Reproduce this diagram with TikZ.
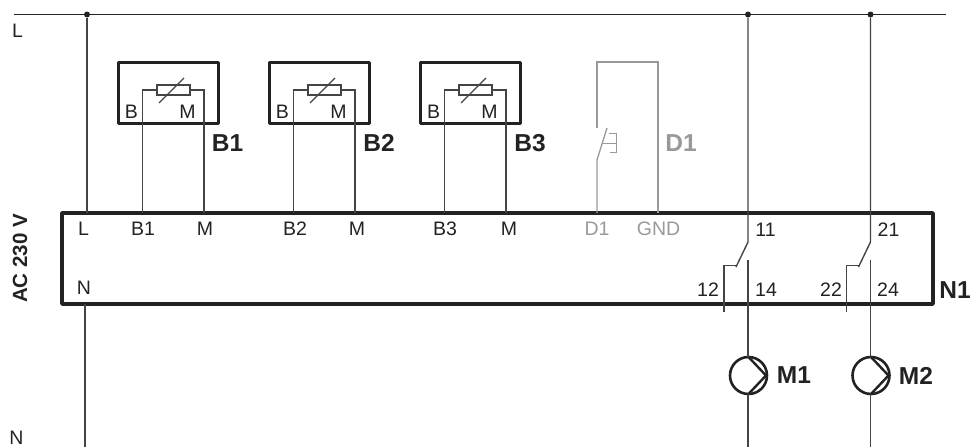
\documentclass[tikz,border=0pt]{standalone}
\usepackage{fontspec}
\setmainfont{Liberation Sans}
\definecolor{ink}{HTML}{222222}
\definecolor{wire}{HTML}{444444}
\definecolor{faint}{HTML}{999999}
\tikzset{
  wireline/.style={draw=wire,line width=1.4pt},
  faintline/.style={draw=faint,line width=1.3pt},
  thickbox/.style={draw=ink,line width=3.8pt,line join=round,fill=none,outer sep=0pt},
  lab/.style={text=ink,font=\fontsize{19.5}{19.5}\selectfont,inner sep=0pt},
  flab/.style={text=faint,font=\fontsize{19.5}{19.5}\selectfont,inner sep=0pt},
  blab/.style={text=ink,font=\fontsize{24.5}{24.5}\selectfont\bfseries,inner sep=0pt},
  fblab/.style={text=faint,font=\fontsize{24.5}{24.5}\selectfont\bfseries,inner sep=0pt},
  jdot/.style={circle,fill=ink,inner sep=0pt,minimum size=6pt},
  pumpc/.style={circle,draw=ink,line width=2.6pt,minimum size=37pt,inner sep=0pt,outer sep=0pt},
}
\begin{document}
\begin{tikzpicture}[x=1pt,y=-1pt]
\useasboundingbox (0,0) rectangle (970,447);
% supply
\coordinate (Lw) at (14,14.5); \coordinate (Le) at (946,14.5);
\node[jdot] (jL) at (87,14.5) {};
\node[jdot] (j1) at (748,14.5) {};
\node[jdot] (j2) at (870.5,14.5) {};
\draw[draw=ink,line width=1.6pt] (Lw) -- (Le);
% controller
\node[thickbox,minimum width=871pt,minimum height=91pt,inner sep=0pt,anchor=north west] (N1) at (62,213) {};
\coordinate (NL) at (87,213); \coordinate (NN) at (85,304); \coordinate (Nb) at (85,447);
\draw[wireline] (jL) -- (NL);
\draw[wireline] (NN) -- (Nb);
% sensors
\foreach \n/\dx in {1/0,2/151,3/302}{
  \node[thickbox,minimum width=100pt,minimum height=61pt,inner sep=0pt,anchor=north west] (S\n) at (118.5+\dx,62.5) {};
  \node[rectangle,draw=wire,line width=1.4pt,minimum width=33pt,minimum height=10pt,inner sep=0pt,outer sep=0pt] (R\n) at (173.5+\dx,90) {};
  \coordinate (Ba\n) at (142.5+\dx,90); \coordinate (Bb\n) at (142.5+\dx,213);
  \coordinate (Ma\n) at (204+\dx,90); \coordinate (Mb\n) at (204+\dx,213);
  \draw[wireline] (R\n.west) -- (Ba\n) -- (Bb\n);
  \draw[wireline] (R\n.east) -- (Ma\n) -- (Mb\n);
  \coordinate (Ra\n) at (159+\dx,103); \coordinate (Rb\n) at (184+\dx,78);
  \draw[wireline] (Ra\n) -- (Rb\n);
  \node[lab] (tB\n) at (131.5+\dx,111.5) {B};
  \node[lab] (tM\n) at (187.5+\dx,111.5) {M};
}
\node[blab] (B1) at (227.5,143) {B1};
\node[blab] (B2) at (379,143) {B2};
\node[blab] (B3) at (530,143) {B3};
% door contact
\coordinate (Da) at (597,213); \coordinate (Db) at (597,160); \coordinate (Dc) at (607,128);
\coordinate (Dd) at (597,128); \coordinate (De) at (597,62); \coordinate (Df) at (658,62); \coordinate (Dg) at (658,213);
\draw[faintline] (Da) -- (Db) -- (Dc);
\draw[faintline,line join=miter] (Dd) -- (De) -- (Df) -- (Dg);
\coordinate (Ka) at (602,143); \coordinate (Kb) at (616,143);
\coordinate (Kc) at (609,133.5); \coordinate (Kd) at (616,133.5);
\coordinate (Ke) at (616,152); \coordinate (Kf) at (610,152);
\draw[faintline,line width=1pt] (Ka) -- (Kb);
\draw[faintline,line width=1pt] (Kc) -- (Kd) -- (Ke) -- (Kf);
\node[fblab] (D1) at (681,143) {D1};
% terminals
\node[lab] at (83.5,229) {L};
\node[lab] at (143,229) {B1};
\node[lab] at (205,229) {M};
\node[lab] at (295,229) {B2};
\node[lab] at (357,229) {M};
\node[lab] at (445,229) {B3};
\node[lab] at (509,229) {M};
\node[flab] at (597,229) {D1};
\node[flab] at (658.5,229) {GND};
\node[lab] at (84,288) {N};
\node[lab] at (765.5,230) {11};
\node[lab] at (888.5,230) {21};
\node[lab] at (708,290) {12};
\node[lab] at (766,290) {14};
\node[lab] at (831,290) {22};
\node[lab] at (888,290) {24};
% relays and pumps
\foreach \n/\x/\jn in {1/748/j1,2/870.5/j2}{
  \coordinate (Ca\n) at (\x,242);
  \coordinate (Cb\n) at (\x-12,267);
  \coordinate (Cc\n) at (\x,260);
  \coordinate (Cd\n) at (\x-11.5,265.5);
  \coordinate (Ce\n) at (\x-24,265.5);
  \coordinate (Cf\n) at (\x-24,312);
  \node[pumpc] (P\n) at (\x+0.5,375.5) {};
  \coordinate (Pb\n) at (\x,447);
  \coordinate (Pt\n) at (\x+18,375.5);
  \draw[wireline] (\jn) -- (Ca\n) -- (Cb\n);
  \draw[wireline] (Cc\n) -- (P\n.north -| Cc\n);
  \draw[wireline,line join=miter] (Cd\n) -- (Ce\n) -- (Cf\n);
  \draw[wireline] (P\n.south -| Pb\n) -- (Pb\n);
  \draw[draw=ink,line width=2.4pt,line join=miter] (P\n.north) -- (Pt\n) -- (P\n.south);
}
\node[blab] (M1) at (794,375.5) {M1};
\node[blab] (M2) at (916,375.5) {M2};
\node[blab] (N1t) at (955,290) {N1};
\node[text=ink,font=\fontsize{20.5}{20.5}\selectfont\bfseries,inner sep=0pt,rotate=90] (AC) at (20,258.5) {AC 230 V};
\node[lab] (Ltop) at (17.5,31) {L};
\node[lab] (Nbot) at (16.5,438) {N};
\end{tikzpicture}
\end{document}
